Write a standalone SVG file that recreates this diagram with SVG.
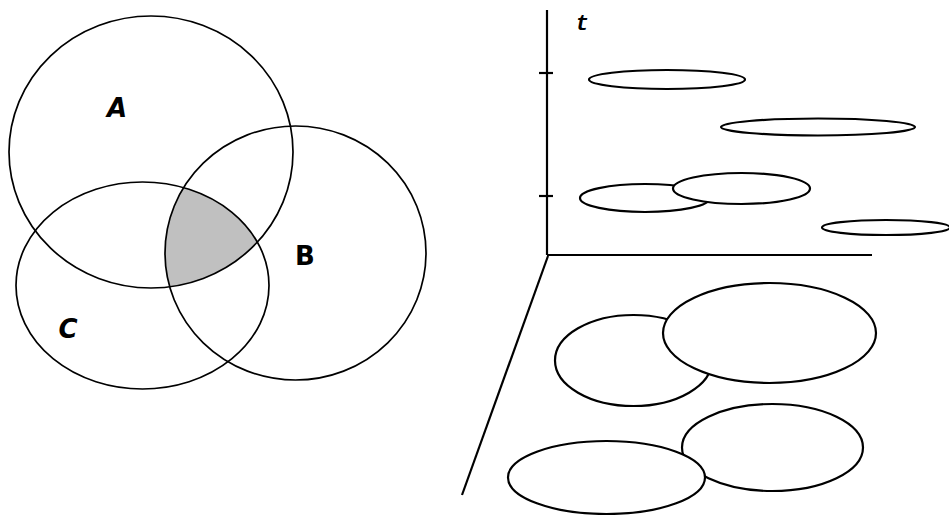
<svg xmlns="http://www.w3.org/2000/svg" width="949" height="515" viewBox="0 0 949 515">
<style>
.venn{fill:none;stroke:#000;stroke-width:1.7}
.ell{fill:#fff;stroke:#000;stroke-width:2.2}
.ax{fill:none;stroke:#000;stroke-width:2.2}
.lbl{font-family:"DejaVu Sans",sans-serif;font-weight:bold;font-size:26px;text-anchor:middle;fill:#000}
.t{font-family:"Liberation Mono",monospace;font-weight:bold;font-style:italic;font-size:22px;text-anchor:middle;fill:#000}
</style>
<defs>
<clipPath id="clipA"><ellipse cx="151" cy="152" rx="142" ry="136"/></clipPath>
<clipPath id="clipB"><ellipse cx="295.5" cy="253" rx="130.5" ry="127"/></clipPath>
</defs>
<rect width="949" height="515" fill="#fff"/>
<g id="shaded">
<g clip-path="url(#clipA)"><g clip-path="url(#clipB)"><ellipse cx="142.5" cy="285.5" rx="126.5" ry="103.5" fill="#c0c0c0"/></g></g>
</g>
<g id="setA"><ellipse class="venn" cx="151" cy="152" rx="142" ry="136"/><text class="lbl" x="117" y="117" font-style="italic">A</text></g>
<g id="setB"><ellipse class="venn" cx="295.5" cy="253" rx="130.5" ry="127"/><text class="lbl" x="305" y="265">B</text></g>
<g id="setC"><ellipse class="venn" cx="142.5" cy="285.5" rx="126.5" ry="103.5"/><text class="lbl" x="68" y="338" font-style="italic">C</text></g>
<g id="axes">
<line class="ax" x1="547" y1="10" x2="547" y2="255"/>
<line class="ax" x1="547" y1="255" x2="872" y2="255"/>
<line class="ax" x1="539" y1="73" x2="553" y2="73"/>
<line class="ax" x1="539" y1="196" x2="553" y2="196"/>
<line class="ax" x1="548" y1="256" x2="462" y2="495"/>
<text class="t" x="582" y="30">t</text>
</g>
<g id="timeline">
<ellipse class="ell" cx="667" cy="79.5" rx="78" ry="9.5"/>
<ellipse class="ell" cx="818" cy="127" rx="97" ry="8.5"/>
<ellipse class="ell" cx="645" cy="198" rx="65" ry="14"/>
<ellipse class="ell" cx="741.5" cy="188.5" rx="68.5" ry="15.5"/>
<ellipse class="ell" cx="886" cy="227.5" rx="64" ry="7.5"/>
</g>
<g id="plane">
<ellipse class="ell" cx="633.5" cy="360.5" rx="78.5" ry="45.5"/>
<ellipse class="ell" cx="769.5" cy="333" rx="106.5" ry="50"/>
<ellipse class="ell" cx="772.5" cy="447.5" rx="90.5" ry="43.5"/>
<ellipse class="ell" cx="606.5" cy="477.5" rx="98.5" ry="36.5"/>
</g>
</svg>
